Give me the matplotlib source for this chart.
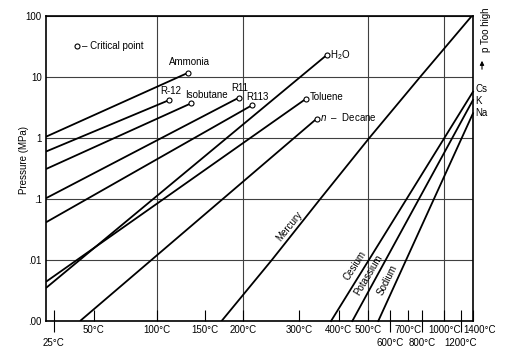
import numpy as np
import matplotlib
matplotlib.use('Agg')
import matplotlib.pyplot as plt
from matplotlib.ticker import NullLocator

plt.rcParams['font.family'] = ['Liberation Sans', 'DejaVu Sans']
plt.rcParams['mathtext.fontset'] = 'custom'
plt.rcParams['mathtext.rm'] = 'Liberation Sans'
plt.rcParams['mathtext.it'] = 'Liberation Sans:italic'
plt.rcParams['font.size'] = 7

# ---------------- data ----------------
fluid_names = ['Ammonia', 'R-12', 'Isobutane', 'R11', 'R113', 'H$_2$O', 'Toluene', '$n$  \u2013  Decane']
fluid_t_low = [20.5, 20.5, 20.5, 20.5, 20.5, 20.5, 20.5, 41.0]      # deg C
fluid_p_low = [1.05, 0.60, 0.31, 0.103, 0.0415, 0.00348, 0.0044, 0.001]  # MPa
fluid_t_crit = [131.0, 111.6, 133.8, 193.7, 213.6, 366.0, 314.0, 340.0]
fluid_p_crit = [11.8, 4.2, 3.7, 4.6, 3.47, 22.9, 4.36, 2.07]

mercury_t = [170, 246, 349, 506, 783, 1382]
mercury_p = [0.001, 0.01, 0.1, 1, 10, 100]

metal_names = ['Cesium', 'Potassium', 'Sodium']
metal_short = ['Cs', 'K', 'Na']
metal_t_low = [378.0, 443.6, 544.0]
metal_p_low = [0.001, 0.001, 0.001]
metal_t_high = [1405.0, 1405.0, 1405.0]
metal_p_high = [5.74, 4.2, 2.54]

major_temps = [50, 100, 150, 200, 300, 400, 500, 700, 1000, 1400]
minor_temps = [25, 600, 800, 1200]
grid_temps = [100, 200, 500, 1000]
p_ticks = [0.001, 0.01, 0.1, 1, 10, 100]
p_labels = ['.00', '.01', '.1', '1', '10', '100']

# ---------------- scale: -1/T ----------------
C_OFF = 269.8


def fwd(t):
    return -1.0 / (np.asarray(t, dtype=float) + C_OFF)


def inv(u):
    with np.errstate(divide='ignore', invalid='ignore'):
        return -1.0 / np.asarray(u, dtype=float) - C_OFF


fig = plt.figure(figsize=(5.2, 3.53), dpi=100)
ax = fig.add_axes([46 / 520, 32 / 353, 427 / 520, 305 / 353])
ax.set_xscale('function', functions=(fwd, inv))
ax.set_yscale('log')
ax.set_xlim(20.5, 1405)
ax.set_ylim(0.001, 100)

# grid
ax.set_yticks(p_ticks)
ax.set_yticklabels(p_labels)
ax.yaxis.set_minor_locator(NullLocator())
ax.grid(axis='y', which='major', color='0.25', lw=0.8)
for gt in grid_temps:
    ax.axvline(gt, color='0.25', lw=0.8, zorder=1)


def fx(px):
    return (px - 46) / 427


def fy(py):
    return (321 - py) / 305


major_labels = [f'{t}\u00b0C' for t in major_temps]
last_label = major_labels[-1]
major_labels[-1] = ''
ax.set_xticks(major_temps)
ax.set_xticklabels(major_labels)
ax.set_xticks(minor_temps, minor=True)
ax.set_xticklabels([f'{t}\u00b0C' for t in minor_temps], minor=True)
ax.tick_params(axis='x', which='major', direction='in', length=8, width=0.8, pad=3.2, labelsize=7)
ax.tick_params(axis='x', which='minor', direction='inout', length=16.5, width=0.8, pad=3.8, labelsize=7)
ax.tick_params(axis='y', which='major', length=0, pad=3, labelsize=7)
for s in ax.spines.values():
    s.set_linewidth(1.2)
# last major label sits just right of its tick, as in the reference
ax.text(fx(463.5), fy(325.4), last_label, transform=ax.transAxes, ha='left', va='top', fontsize=7)

# fluid lines with critical points
lw = 1.3
for tl, pl, tc, pc in zip(fluid_t_low, fluid_p_low, fluid_t_crit, fluid_p_crit):
    ax.plot([tl, tc], [pl, pc], color='black', lw=lw, solid_capstyle='butt', zorder=3)
    ax.plot([tc], [pc], marker='o', ms=3.6, mfc='white', mec='black', mew=0.8, zorder=4)

ax.plot(mercury_t, mercury_p, color='black', lw=lw, zorder=3)
for tl, pl, th, ph in zip(metal_t_low, metal_p_low, metal_t_high, metal_p_high):
    ax.plot([tl, th], [pl, ph], color='black', lw=lw, zorder=3, clip_on=False)

# fluid labels (axes fraction positions)
label_pos = [(189, 62, 'center'), (171, 91, 'center'), (206, 94.5, 'center'),
             (239.5, 88, 'center'), (257.5, 97, 'center'), (330, 55, 'left'),
             (310, 97.5, 'left'), (320, 117.5, 'left')]
for name, (px, py, ha) in zip(fluid_names, label_pos):
    ax.text(fx(px), fy(py), name, transform=ax.transAxes, ha=ha, va='center', fontsize=7)

# critical point key
ax.plot([fx(77.3)], [fy(46.5)], transform=ax.transAxes, marker='o', ms=3.6,
        mfc='white', mec='black', mew=0.8, clip_on=False)
ax.text(fx(82.5), fy(46.5), '\u2013 Critical point', transform=ax.transAxes,
        ha='left', va='center', fontsize=7)

# rotated labels
ax.text(fx(289), fy(226.5), 'Mercury', transform=ax.transAxes, rotation=51,
        ha='center', va='center', rotation_mode='anchor', fontsize=7)
rot_pos = [(355, 266, 57), (368.5, 275, 59), (387.5, 280, 63)]
for name, (px, py, r) in zip(metal_names, rot_pos):
    ax.text(fx(px), fy(py), name, transform=ax.transAxes, rotation=r,
            ha='center', va='center', rotation_mode='anchor', fontsize=7)

for name, py in zip(metal_short, [89.5, 101, 113]):
    ax.text(fx(475), fy(py), name, transform=ax.transAxes, ha='left', va='center', fontsize=7)

# p too high
ax.text(fx(486), fy(30), 'p Too high', transform=ax.transAxes, rotation=90,
        ha='center', va='center', fontsize=7)
ax.annotate('', xy=(fx(482), fy(58)), xytext=(fx(482), fy(72)),
            xycoords='axes fraction', textcoords='axes fraction',
            arrowprops=dict(arrowstyle='-|>', color='black', lw=0.8, mutation_scale=6))

ax.text(fx(24), fy(160), 'Pressure (MPa)', transform=ax.transAxes, rotation=90,
        ha='center', va='center', fontsize=7)

fig.savefig('out.png', dpi=100)
